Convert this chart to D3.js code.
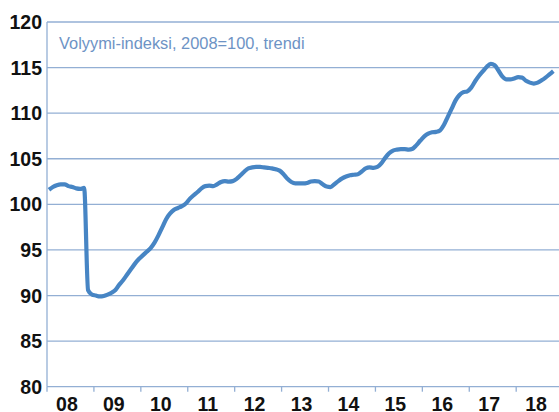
<!DOCTYPE html>
<html>
<head>
<meta charset="utf-8">
<script src="https://cdn.jsdelivr.net/npm/d3@7"></script>
<style>
  html, body { margin: 0; padding: 0; background: #ffffff; }
  svg { display: block; }
</style>
</head>
<body>
<svg id="chart" width="559" height="412"></svg>
<script>
// ---- data ----
const title = "Volyymi-indeksi, 2008=100, trendi";
const yearLabels = ["08","09","10","11","12","13","14","15","16","17","18"];
const yTicks = [80, 85, 90, 95, 100, 105, 110, 115, 120];
// monthly trend values, Jan 2008 .. Oct 2018
const values2008 = [101.6,101.9,102.1,102.2,102.2,102.0,101.9,101.75,101.7,101.8,90.6,90.1];
const values2009 = [90.0,89.9,89.95,90.1,90.3,90.6,91.2,91.7,92.3,92.9,93.5,94.0];
const values2010 = [94.4,94.8,95.2,95.8,96.6,97.5,98.4,99.0,99.4,99.6,99.8,100.1];
const values2011 = [100.6,101.0,101.35,101.75,102.0,102.05,102.0,102.2,102.45,102.55,102.5,102.55];
const values2012 = [102.8,103.2,103.6,103.95,104.05,104.1,104.1,104.05,104.0,103.95,103.85,103.7];
const values2013 = [103.3,102.8,102.45,102.3,102.3,102.3,102.35,102.5,102.55,102.5,102.2,101.95];
const values2014 = [101.9,102.2,102.55,102.85,103.05,103.2,103.25,103.3,103.6,103.95,104.05,104.0];
const values2015 = [104.1,104.5,105.1,105.6,105.9,106.0,106.05,106.05,106.0,106.1,106.5,107.0];
const values2016 = [107.45,107.75,107.9,107.95,108.1,108.7,109.6,110.5,111.4,112.0,112.3,112.4];
const values2017 = [112.8,113.5,114.1,114.6,115.1,115.4,115.25,114.65,114.0,113.7,113.7,113.8];
const values2018 = [113.95,113.9,113.55,113.35,113.25,113.35,113.6,113.9,114.25,114.6];

const series = [].concat(values2008, values2009, values2010, values2011, values2012,
  values2013, values2014, values2015, values2016, values2017, values2018);
const totalMonths = 131;

// ---- layout ----
const svg = d3.select("#chart");
const mLeft = 47, mRight = 559.2, mTop = 22, mBottom = 386.7;
const gridColor = "#93afd4";
const lineColor = "#4785c4";

const x = d3.scaleLinear().domain([0, totalMonths]).range([mLeft, mRight]);
const y = d3.scaleLinear().domain([80, 120]).range([mBottom, mTop]);

// gridlines
svg.append("g").selectAll("line").data(yTicks).join("line")
  .attr("x1", mLeft).attr("x2", 559)
  .attr("y1", d => y(d)).attr("y2", d => y(d))
  .attr("stroke", gridColor).attr("stroke-width", 1.3);

// left axis line
svg.append("line")
  .attr("x1", mLeft).attr("x2", mLeft).attr("y1", y(120)).attr("y2", y(80))
  .attr("stroke", gridColor).attr("stroke-width", 1.3);

// x ticks at year boundaries
svg.append("g").selectAll("line").data(d3.range(0, yearLabels.length + 1)).join("line")
  .attr("x1", d => x(d * 12)).attr("x2", d => x(d * 12))
  .attr("y1", mBottom).attr("y2", mBottom + 5)
  .attr("stroke", gridColor).attr("stroke-width", 1.3);

// y labels
svg.append("g").selectAll("text").data(yTicks).join("text")
  .attr("x", 42).attr("y", d => y(d))
  .attr("dy", "0.36em")
  .attr("text-anchor", "end")
  .attr("font-family", "Liberation Sans, Arial, sans-serif")
  .attr("font-weight", "bold").attr("font-size", 19.5)
  .attr("fill", "#111")
  .text(d => d);

// x labels
svg.append("g").selectAll("text").data(yearLabels).join("text")
  .attr("x", (d, i) => x(i * 12 + 5.1)).attr("y", 410.5)
  .attr("text-anchor", "middle")
  .attr("font-family", "Liberation Sans, Arial, sans-serif")
  .attr("font-weight", "bold").attr("font-size", 19.5)
  .attr("fill", "#111")
  .text(d => d);

// title
svg.append("text")
  .attr("x", 59).attr("y", 48.5)
  .attr("font-family", "Liberation Sans, Arial, sans-serif")
  .attr("font-size", 16.4)
  .attr("fill", "#6d93c5")
  .text(title);

// line
const line = d3.line()
  .x((d, i) => x(i + 0.5))
  .y(d => y(d))
  .curve(d3.curveMonotoneX);

svg.append("path")
  .datum(series)
  .attr("d", line)
  .attr("fill", "none")
  .attr("stroke", lineColor)
  .attr("stroke-width", 4.2)
  .attr("stroke-linejoin", "round");
</script>
</body>
</html>
